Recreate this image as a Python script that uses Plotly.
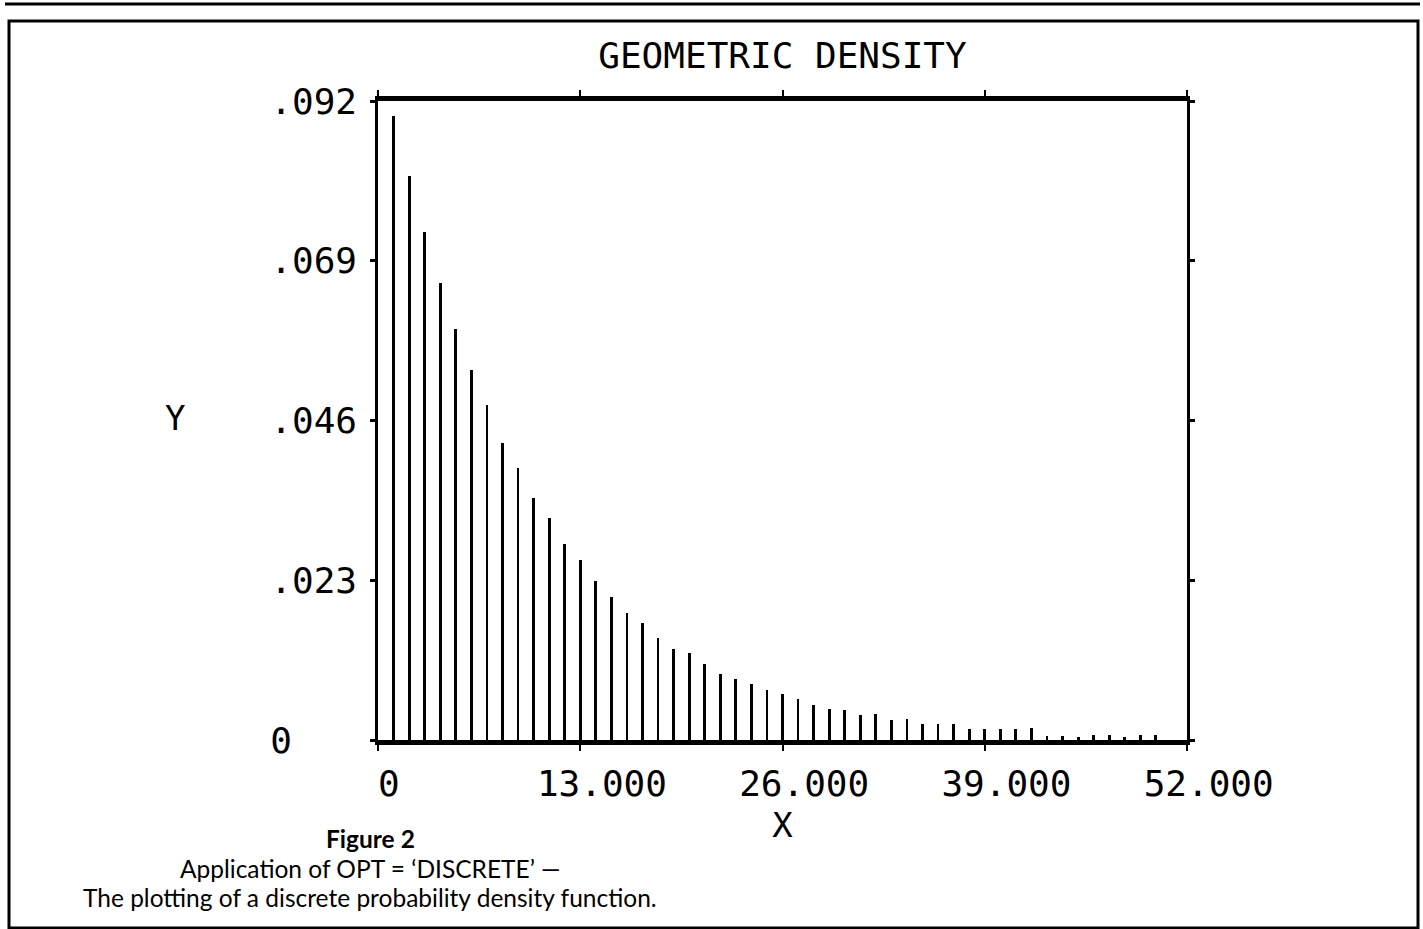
import plotly.graph_objects as go

# ---- data ----
x_values = list(range(1, 51))
density = [
    0.0898, 0.0812, 0.0732, 0.0658, 0.0592, 0.0532, 0.0482, 0.0428, 0.0392, 0.0348,
    0.0319, 0.0282, 0.0259, 0.0229, 0.0206, 0.0183, 0.0168, 0.0147, 0.0131, 0.0125,
    0.0109, 0.0095, 0.0088, 0.0081, 0.0072, 0.0066, 0.0059, 0.0050, 0.0045, 0.0043,
    0.0036, 0.0037, 0.0029, 0.0030, 0.0023, 0.0023, 0.0023, 0.0016, 0.0016, 0.0016,
    0.0016, 0.0017, 0.0006, 0.0006, 0.0004, 0.0007, 0.0007, 0.0004, 0.0007, 0.0007,
]
x_tick_vals = [0, 13, 26, 39, 52]
x_tick_text = ["0", "13.000", "26.000", "39.000", "52.000"]
y_tick_vals = [0, 0.023, 0.046, 0.069, 0.092]
y_tick_text = ["0", ".023", ".046", ".069", ".092"]

title_text = "GEOMETRIC DENSITY"
caption_lines = ["<b>Figure 2</b>",
                 "Application of OPT = \u2018DISCRETE\u2019 \u2014",
                 "The plotting of a discrete probability density function."]

# ---- layout geometry (pixels) ----
W, H = 1423, 929
L, R, T, B = 378, 1187, 101, 740
PW, PH = R - L, B - T

def px(xp):
    return (xp - L) / PW

def py(yp):
    return (B - yp) / PH

MONO = "DejaVu Sans Mono"
SANS = "Lato"

fig = go.Figure()
fig.add_trace(go.Bar(x=x_values, y=density, width=0.18,
                     marker=dict(color="black", line=dict(width=0)),
                     showlegend=False))

# pad tick labels so they sit like the original printout
xt = ["\u00a0" + x_tick_text[0]] + ["\u00a0\u00a0" + t for t in x_tick_text[1:]]
yt = [t if t != "0" else t + "\u00a0\u00a0\u00a0" for t in y_tick_text]

fig.update_layout(
    width=W, height=H,
    margin=dict(l=L, r=W - R, t=T, b=H - B, pad=0),
    paper_bgcolor="white", plot_bgcolor="white",
    bargap=0,
    title=dict(text=title_text, x=0.5, xref="paper", xanchor="center",
               y=1 - 55 / H, yref="container", yanchor="middle",
               font=dict(family=MONO, size=36, color="black")),
    xaxis=dict(range=[0, 52], tickvals=x_tick_vals, ticktext=xt,
               showgrid=False, zeroline=False,
               showline=True, linewidth=5, linecolor="black", mirror="ticks",
               ticks="outside", ticklen=6, tickwidth=2, tickcolor="black",
               ticklabelstandoff=2,
               tickfont=dict(family=MONO, size=36, color="black"),
               title=dict(text="X", font=dict(family=MONO, size=34, color="black"),
                          standoff=11)),
    yaxis=dict(range=[0, 0.092], tickvals=y_tick_vals, ticktext=yt,
               showgrid=False, zeroline=False,
               showline=True, linewidth=2.5, linecolor="black", mirror="ticks",
               ticks="outside", ticklen=5, tickwidth=3, tickcolor="black",
               ticklabelstandoff=6,
               tickfont=dict(family=MONO, size=36, color="black")),
)

# Y axis label
fig.add_annotation(x=px(175), y=py(418), xref="paper", yref="paper",
                   text="Y", showarrow=False, xanchor="center", yanchor="middle",
                   font=dict(family=MONO, size=34, color="black"))

# caption
for text, ycen in zip(caption_lines, [838, 868, 897]):
    fig.add_annotation(x=px(370), y=py(ycen), xref="paper", yref="paper",
                       text=text, showarrow=False, xanchor="center", yanchor="middle",
                       font=dict(family=SANS, size=24.5, color="black"))

# page frame: top rule and box
fig.add_shape(type="line", xref="paper", yref="paper",
              x0=px(5), x1=px(1420), y0=py(4), y1=py(4),
              line=dict(color="black", width=3))
fig.add_shape(type="rect", xref="paper", yref="paper",
              x0=px(9), x1=px(1418), y0=py(928), y1=py(21),
              line=dict(color="black", width=3), fillcolor="rgba(0,0,0,0)")

fig.write_html("out.html", config={"displayModeBar": False},
               post_script="document.body.style.margin='0';document.body.style.overflow='hidden';")
